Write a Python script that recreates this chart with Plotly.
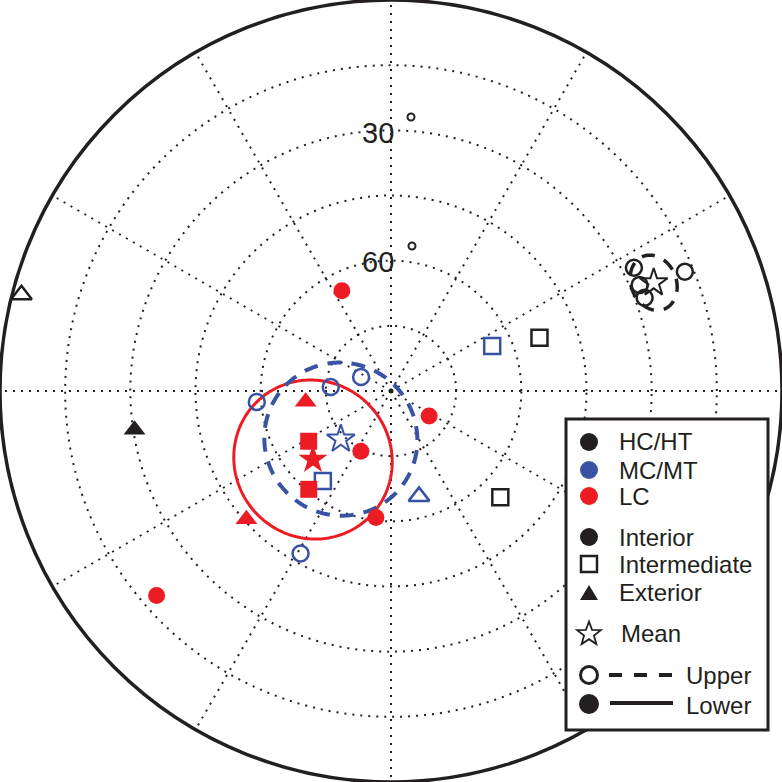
import numpy as np
import plotly.graph_objects as go

BLACK = "#231F20"
BLUE = "#3953A4"
RED = "#ED1C24"

# inclination (deg, negative = upper hemisphere -> open symbols), declination (deg)
hc_int_inc = [-27.3, -17.0, -27.8, -27.8]
hc_int_dec = [63.1, 67.9, 66.9, 69.8]
hc_mid_inc = [-53.7, -54.9]
hc_mid_dec = [70.3, 134.2]
hc_ext_inc = [30.3, -2.1]
hc_ext_dec = [261.4, 284.6]
hc_mean = [-24.6, 67.6, 5.2]   # inc, dec, a95

mc_int_inc = [-59.0, -76.1, -82.4, -47.2]
mc_int_dec = [265.3, 273.8, 295.0, 209.1]
mc_mid_inc = [-64.0, -64.5]
mc_mid_dec = [217.1, 66.0]
mc_ext_inc = [-64.9]
mc_ext_dec = [165.1]
mc_mean = [-74.0, 226.2, 17.5]

lc_int_inc = [64.3, 79.5, 74.5, 60.7, 18.4]
lc_int_dec = [333.9, 123.3, 206.6, 186.8, 228.9]
lc_mid_inc = [67.8, 60.5]
lc_mid_dec = [238.6, 219.9]
lc_ext_inc = [70.2, 45.5]
lc_ext_dec = [262.8, 228.4]
lc_mean = [66.1, 228.7, 18.0]

inc_rings = [15, 30, 45, 60, 75]
ring_labels = ["30", "60"]

fig = go.Figure()


def add_points(incs, decs, color, symbol, size, lw=2.5):
    incs = np.array(incs)
    decs = np.array(decs)
    for upper in (True, False):
        sel = (incs < 0) if upper else (incs >= 0)
        if not sel.any():
            continue
        fig.add_trace(go.Scatterpolar(
            r=90 - np.abs(incs[sel]), theta=decs[sel], mode="markers",
            marker=dict(symbol=symbol + ("-open" if upper else ""),
                        size=size - 1 if upper else size,
                        color=color, line=dict(color=color, width=lw if upper else 0)),
            showlegend=False, hoverinfo="skip"))


def small_circle(inc, dec, a95, n=241):
    I, D, a = np.radians([abs(inc), dec, a95])
    m = np.array([np.cos(I) * np.cos(D), np.cos(I) * np.sin(D), np.sin(I)])
    u = np.cross(m, [0, 0, 1.0])
    u /= np.linalg.norm(u)
    v = np.cross(m, u)
    t = np.linspace(0, 2 * np.pi, n)
    p = np.cos(a) * m[:, None] + np.sin(a) * (np.cos(t) * u[:, None] + np.sin(t) * v[:, None])
    ci = np.degrees(np.arcsin(p[2]))
    cd = np.degrees(np.arctan2(p[1], p[0])) % 360
    return 90 - ci, cd


# confidence circles
for mean, color, width, dash in [(lc_mean, RED, 3, "solid"),
                                 (mc_mean, BLUE, 4, "14px,10px"),
                                 (hc_mean, BLACK, 3.5, "13px,10px")]:
    r, th = small_circle(*mean)
    fig.add_trace(go.Scatterpolar(r=r, theta=th, mode="lines",
                                  line=dict(color=color, width=width, dash=dash),
                                  showlegend=False, hoverinfo="skip"))

# centre mark
fig.add_trace(go.Scatterpolar(r=[0], theta=[0], mode="markers",
                              marker=dict(size=5, color=BLACK),
                              showlegend=False, hoverinfo="skip"))

for color, grp in [(BLACK, (hc_int_inc, hc_int_dec, hc_mid_inc, hc_mid_dec, hc_ext_inc, hc_ext_dec, hc_mean)),
                   (BLUE, (mc_int_inc, mc_int_dec, mc_mid_inc, mc_mid_dec, mc_ext_inc, mc_ext_dec, mc_mean)),
                   (RED, (lc_int_inc, lc_int_dec, lc_mid_inc, lc_mid_dec, lc_ext_inc, lc_ext_dec, lc_mean))]:
    add_points(grp[0], grp[1], color, "circle", 17)
    add_points(grp[2], grp[3], color, "square", 17)
    add_points(grp[4], grp[5], color, "triangle-up", 19)
    add_points([grp[6][0]], [grp[6][1]], color, "star", 22, lw=2)

fig.update_layout(
    width=782, height=782,
    margin=dict(l=0, r=0, t=0, b=0),
    paper_bgcolor="white",
    showlegend=False,
    polar=dict(
        domain=dict(x=[0, 1], y=[0, 1]),
        bgcolor="white",
        radialaxis=dict(range=[0, 90], tickvals=[90 - v for v in inc_rings],
                        showticklabels=False, ticks="", showline=False,
                        gridcolor=BLACK, gridwidth=1.5, griddash="2px,6px"),
        angularaxis=dict(rotation=90, direction="clockwise", dtick=30,
                         showticklabels=False, ticks="", showline=True,
                         linecolor=BLACK, linewidth=3.5,
                         gridcolor=BLACK, gridwidth=1.5, griddash="2px,6px"),
    ),
)

W = 782.0


def px(x, y):
    return x / W, 1 - y / W


shapes = []
annotations = []
FONT = dict(family="Liberation Sans, Arial, sans-serif", color=BLACK)

# ring labels
for lab, (x, y), (dx, dy) in zip(ring_labels, [(378, 133), (378, 262)], [(411, 117), (412, 246)]):
    ax_, ay_ = px(x, y)
    annotations.append(dict(x=ax_, y=ay_, xref="paper", yref="paper", text=lab, showarrow=False,
                            xanchor="center", yanchor="middle", font=dict(size=29, **FONT)))
    x0, y0 = px(dx - 3.5, dy - 3.5)
    x1, y1 = px(dx + 3.5, dy + 3.5)
    shapes.append(dict(type="circle", xref="paper", yref="paper", x0=x0, y0=y0, x1=x1, y1=y1,
                       line=dict(color=BLACK, width=2)))

# legend box
x0, y0 = px(566, 419)
x1, y1 = px(768, 730)
shapes.append(dict(type="rect", xref="paper", yref="paper", x0=x0, y0=y0, x1=x1, y1=y1,
                   fillcolor="white", line=dict(color=BLACK, width=3)))


def circ(cx, cy, rad, color, filled=True):
    a0, b0 = px(cx - rad, cy - rad)
    a1, b1 = px(cx + rad, cy + rad)
    shapes.append(dict(type="circle", xref="paper", yref="paper", x0=a0, y0=b0, x1=a1, y1=b1,
                       fillcolor=color if filled else "white",
                       line=dict(color=color, width=0 if filled else 3)))


def poly(pts, color, filled=True, lw=2):
    path = "M " + " L ".join("%f,%f" % px(x, y) for x, y in pts) + " Z"
    shapes.append(dict(type="path", xref="paper", yref="paper", path=path,
                       fillcolor=color if filled else "rgba(0,0,0,0)",
                       line=dict(color=color, width=lw if not filled else 0)))


LX = 589
legend_rows = [("HC/HT", 442), ("MC/MT", 470), ("LC", 496),
               ("Interior", 537), ("Intermediate", 564), ("Exterior", 592)]
circ(LX, 442, 9, BLACK)
circ(LX, 470, 9, BLUE)
circ(LX, 496, 9, RED)
circ(LX, 537, 9, BLACK)
poly([(581, 556), (597, 556), (597, 572), (581, 572)], BLACK, filled=False, lw=2.5)
poly([(580, 600), (598, 600), (589, 585)], BLACK)
ang = np.radians(np.arange(10) * 36)
rad = np.where(np.arange(10) % 2 == 0, 12.5, 5.2)
poly(list(zip(LX + rad * np.sin(ang), 634 - rad * np.cos(ang))), BLACK, filled=False, lw=1.8)
circ(LX, 675, 8.5, BLACK, filled=False)
circ(LX, 704, 10, BLACK)
a0, b0 = px(609, 675)
a1, b1 = px(672, 675)
shapes.append(dict(type="line", xref="paper", yref="paper", x0=a0, y0=b0, x1=a1, y1=b1,
                   line=dict(color=BLACK, width=4, dash="13px,12px")))
a0, b0 = px(610, 703)
a1, b1 = px(673, 703)
shapes.append(dict(type="line", xref="paper", yref="paper", x0=a0, y0=b0, x1=a1, y1=b1,
                   line=dict(color=BLACK, width=4)))

for text, y in legend_rows + [("Mean", 633)]:
    tx, ty = px(617 if text != "Mean" else 619, y)
    annotations.append(dict(x=tx, y=ty, xref="paper", yref="paper", text=text, showarrow=False,
                            xanchor="left", yanchor="middle", font=dict(size=24, **FONT)))
for text, y in [("Upper", 675), ("Lower", 705)]:
    tx, ty = px(684, y)
    annotations.append(dict(x=tx, y=ty, xref="paper", yref="paper", text=text, showarrow=False,
                            xanchor="left", yanchor="middle", font=dict(size=24, **FONT)))

fig.update_layout(shapes=shapes, annotations=annotations)
fig.write_html("out.html", config={"displayModeBar": False},
               post_script="document.body.style.margin='0px';")
